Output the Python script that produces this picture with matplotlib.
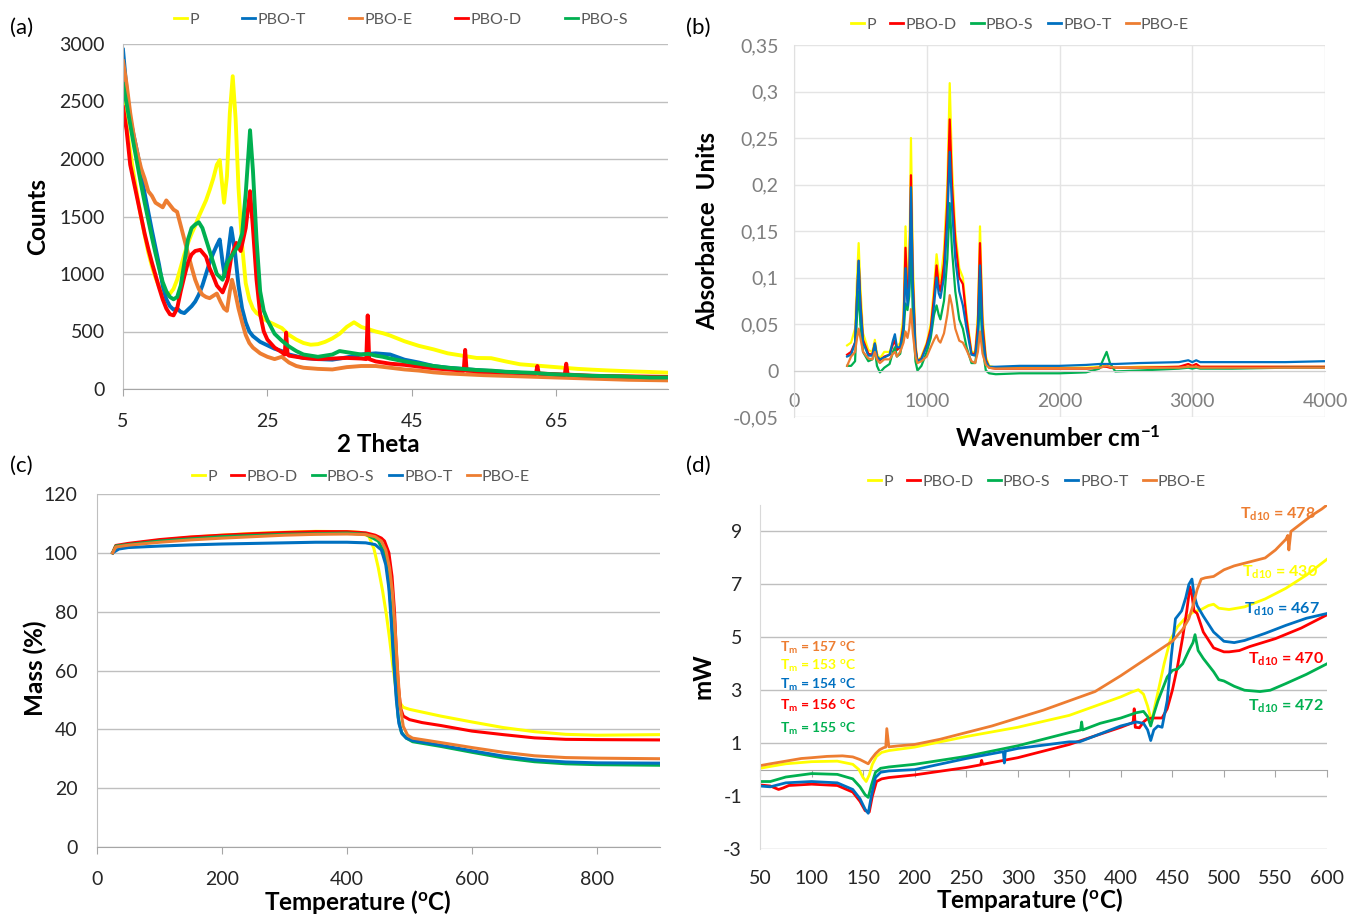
import matplotlib
matplotlib.use("Agg")
import matplotlib.pyplot as plt
from matplotlib.ticker import FuncFormatter

plt.rcParams["font.family"] = ["Lato", "DejaVu Sans"]
plt.rcParams["mathtext.fontset"] = "custom"
plt.rcParams["mathtext.rm"] = "Lato"
plt.rcParams["mathtext.it"] = "Lato:italic"
plt.rcParams["mathtext.bf"] = "Lato:bold"
plt.rcParams["axes.unicode_minus"] = False

# ---------------------------------------------------------------- colours
COL = {"P": "#FFFF00", "PBO-D": "#FF0000", "PBO-S": "#00B050",
       "PBO-T": "#0070C0", "PBO-E": "#ED7D31"}

# ---------------------------------------------------------------- (a) XRD
xrd_p_x = [5, 5.5, 6, 6.5, 7, 7.5, 8, 8.5, 9, 9.5, 10, 10.5, 11, 11.5, 12, 12.5, 13, 13.5, 14, 14.5,
           15, 15.5, 16, 16.5, 17, 17.5, 18, 18.4, 18.7, 19.0, 19.4, 19.8, 20.2, 20.6, 21.0, 21.5, 22, 22.5, 23, 23.5,
           24, 24.5, 25, 26, 27, 28, 29, 30, 31, 32, 33, 34, 35, 36, 37, 38, 39, 40, 41, 42,
           43, 44, 46, 48, 50, 52, 54, 56, 58, 60, 62, 64, 66, 68, 70, 72, 74, 76, 78, 80.5]
xrd_p_y = [2520, 2280, 2060, 1860, 1670, 1500, 1340, 1190, 1070, 970, 890, 840, 810, 830, 870, 950, 1060, 1170, 1270, 1350,
           1420, 1500, 1570, 1640, 1730, 1830, 1950, 1990, 1800, 1620, 1850, 2400, 2720, 2350, 1750, 1250, 920, 780, 700, 660,
           640, 610, 590, 560, 530, 470, 430, 400, 385, 390, 410, 440, 480, 540, 580, 540, 520, 500, 485, 465,
           440, 415, 375, 345, 310, 290, 270, 268, 240, 215, 205, 195, 185, 175, 168, 162, 157, 152, 148, 142]

xrd_t_x = [5, 5.5, 6, 6.5, 7, 7.5, 8, 8.5, 9, 9.5, 10, 10.5, 11, 11.5, 12, 12.5, 13, 13.5, 14, 14.5,
           15, 15.5, 16, 16.5, 17, 17.5, 18, 18.4, 18.8, 19.1, 19.5, 20.0, 20.5, 21, 21.5, 22, 22.5, 23, 24, 25,
           26, 27, 28, 30, 32, 34, 36, 38, 40, 42, 44, 46, 48, 50, 55, 60, 65, 70, 75, 80.5]
xrd_t_y = [2950, 2600, 2350, 2200, 2050, 1880, 1700, 1540, 1380, 1230, 1080, 900, 780, 720, 690, 700, 670, 660, 690, 720,
           760, 820, 900, 1000, 1100, 1180, 1250, 1300, 1100, 980, 1150, 1400, 1200, 900, 700, 580, 500, 460, 410, 380,
           350, 330, 300, 270, 260, 255, 275, 300, 310, 300, 255, 230, 200, 185, 160, 140, 125, 110, 100, 90]

xrd_e_x = [5, 5.5, 6, 6.5, 7, 7.5, 8, 8.5, 9, 9.5, 10, 10.5, 11, 11.5, 12, 12.5, 13, 13.5, 14, 14.5,
           15, 15.5, 16, 16.5, 17, 17.5, 18, 18.5, 19, 19.4, 19.8, 20.1, 20.5, 21, 21.5, 22, 22.5, 23, 24, 25,
           26, 27, 28, 29, 30, 32, 34, 36, 38, 40, 42, 44, 46, 48, 50, 55, 60, 65, 70, 75, 80.5]
xrd_e_y = [2850, 2650, 2400, 2200, 2050, 1920, 1830, 1720, 1680, 1620, 1600, 1580, 1640, 1600, 1560, 1540, 1420, 1300, 1180, 1060,
           950, 870, 820, 800, 790, 810, 830, 760, 700, 680, 850, 950, 850, 700, 580, 470, 400, 360, 310, 280,
           260, 280, 230, 200, 185, 175, 170, 190, 200, 200, 185, 170, 160, 145, 135, 120, 110, 100, 90, 80, 75]

xrd_d_x = [5, 5.5, 6, 6.5, 7, 7.5, 8, 8.5, 9, 9.5, 10, 10.5, 11, 11.5, 12, 12.5, 13, 13.5, 14, 14.5,
           15, 15.7, 16.5, 17, 17.5, 18, 18.8, 19.5, 20, 20.7, 21.3, 22, 22.6, 23, 23.5, 24, 24.5, 25, 26, 27,
           27.4, 27.6, 27.8, 28, 29, 30, 32, 34, 36, 38, 38.7, 38.9, 39.1, 40, 42, 44, 46, 48, 50, 52.2,
           52.4, 52.6, 55, 58, 60, 62.2, 62.4, 62.6, 66.2, 66.4, 66.6, 70, 75, 80.5]
xrd_d_y = [2450, 2250, 1950, 1800, 1650, 1500, 1350, 1220, 1100, 990, 880, 780, 700, 650, 640, 700, 850, 980, 1100, 1170,
           1200, 1210, 1150, 1050, 980, 900, 840, 950, 1150, 1270, 1200, 1400, 1720, 1400, 950, 650, 500, 430, 360, 320,
           300, 490, 300, 290, 280, 270, 260, 265, 270, 265, 260, 640, 260, 240, 220, 210, 195, 180, 170, 160,
           340, 160, 150, 145, 140, 135, 200, 135, 125, 220, 125, 115, 110, 105]

xrd_s_x = [5, 5.5, 6, 6.5, 7, 7.5, 8, 8.5, 9, 9.5, 10, 10.5, 11, 11.5, 12, 12.5, 13, 13.5, 14, 14.5,
           15, 15.5, 16, 16.5, 17, 17.5, 18, 18.8, 19.5, 20, 20.5, 21, 21.5, 22, 22.6, 23, 23.5, 24, 24.5, 25,
           26, 27, 28, 29, 30, 31, 32, 33, 34, 35, 36, 37, 38, 39, 40, 41, 42, 44, 46, 48,
           50, 52, 54, 56, 58, 60, 62, 64, 66, 68, 70, 72, 74, 76, 78, 80.5]
xrd_s_y = [2650, 2480, 2300, 2120, 1950, 1780, 1620, 1470, 1320, 1180, 1050, 930, 850, 800, 780, 800, 900, 1100, 1300, 1400,
           1430, 1450, 1400, 1300, 1200, 1100, 1000, 950, 1100, 1150, 1200, 1250, 1350, 1700, 2250, 1900, 1300, 850, 680, 600,
           480, 420, 370, 330, 300, 290, 280, 290, 300, 330, 320, 310, 300, 305, 290, 280, 265, 240, 220, 200,
           185, 175, 165, 160, 150, 145, 140, 130, 125, 120, 115, 112, 110, 105, 100, 100]

xrd_ticks = [5, 25, 45, 65]

# ---------------------------------------------------------------- (b) FTIR
wavenumber = [400, 430, 460, 475, 487, 500, 520, 560, 590, 609, 625, 647, 680, 720, 745, 760, 775, 800, 825, 840,
              855, 868, 881, 895, 915, 930, 960, 1000, 1030, 1055, 1074, 1090, 1103, 1130, 1155, 1173, 1190, 1215, 1245, 1272,
              1300, 1337, 1365, 1385, 1401, 1420, 1445, 1470, 1520, 1700, 2000, 2200, 2300, 2330, 2355, 2380, 2420, 2600, 2900, 2970,
              3000, 3030, 3060, 3300, 3700, 4000]
ftir_p = [0.027, 0.030, 0.045, 0.10, 0.137, 0.09, 0.04, 0.022, 0.02, 0.033, 0.018, 0.013, 0.02, 0.02, 0.03, 0.035, 0.025, 0.03, 0.06, 0.155,
          0.09, 0.11, 0.25, 0.12, 0.03, 0.01, 0.015, 0.03, 0.05, 0.09, 0.125, 0.105, 0.095, 0.13, 0.2, 0.309, 0.22, 0.15, 0.11, 0.10,
          0.06, 0.02, 0.02, 0.06, 0.155, 0.06, 0.015, 0.005, 0.003, 0.003, 0.003, 0.003, 0.004, 0.005, 0.005, 0.004, 0.003, 0.004, 0.004, 0.005,
          0.005, 0.005, 0.004, 0.004, 0.004, 0.004]
ftir_d = [0.017, 0.020, 0.03, 0.08, 0.118, 0.075, 0.033, 0.018, 0.017, 0.029, 0.015, 0.011, 0.015, 0.017, 0.028, 0.032, 0.022, 0.025, 0.05, 0.132,
          0.08, 0.095, 0.21, 0.1, 0.025, 0.01, 0.013, 0.028, 0.045, 0.08, 0.113, 0.092, 0.085, 0.115, 0.18, 0.27, 0.2, 0.14, 0.1, 0.093,
          0.055, 0.018, 0.018, 0.05, 0.137, 0.05, 0.012, 0.003, 0.002, 0.002, 0.002, 0.002, 0.003, 0.004, 0.004, 0.003, 0.003, 0.003, 0.004, 0.007,
          0.005, 0.007, 0.004, 0.004, 0.004, 0.004]
ftir_s = [0.005, 0.005, 0.01, 0.06, 0.085, 0.05, 0.02, 0.01, 0.012, 0.022, 0.005, -0.002, 0.003, 0.007, 0.02, 0.025, 0.015, 0.018, 0.04, 0.072,
          0.065, 0.08, 0.14, 0.06, 0.01, 0.0, 0.005, 0.02, 0.035, 0.06, 0.07, 0.06, 0.055, 0.075, 0.12, 0.18, 0.13, 0.085, 0.055, 0.045,
          0.025, 0.008, 0.008, 0.03, 0.082, 0.025, 0.0, -0.003, -0.004, -0.003, -0.003, -0.002, 0.002, 0.012, 0.02, 0.008, -0.001, 0.0, 0.002, 0.003,
          0.002, 0.003, 0.002, 0.002, 0.003, 0.003]
ftir_t = [0.015, 0.017, 0.03, 0.08, 0.118, 0.07, 0.03, 0.016, 0.016, 0.029, 0.015, 0.012, 0.014, 0.017, 0.032, 0.039, 0.025, 0.025, 0.045, 0.11,
          0.07, 0.09, 0.197, 0.09, 0.022, 0.01, 0.012, 0.026, 0.04, 0.07, 0.1, 0.083, 0.078, 0.1, 0.16, 0.235, 0.175, 0.12, 0.085, 0.07,
          0.045, 0.017, 0.016, 0.04, 0.113, 0.04, 0.01, 0.004, 0.004, 0.005, 0.005, 0.006, 0.007, 0.007, 0.007, 0.007, 0.007, 0.008, 0.009, 0.011,
          0.009, 0.011, 0.009, 0.009, 0.009, 0.01]
ftir_e = [0.005, 0.015, 0.02, 0.035, 0.045, 0.035, 0.02, 0.013, 0.012, 0.02, 0.012, 0.008, 0.012, 0.012, 0.018, 0.02, 0.015, 0.02, 0.03, 0.042,
          0.035, 0.045, 0.066, 0.04, 0.015, 0.008, 0.01, 0.015, 0.025, 0.033, 0.038, 0.032, 0.03, 0.04, 0.06, 0.081, 0.07, 0.045, 0.032, 0.03,
          0.022, 0.01, 0.008, 0.02, 0.042, 0.018, 0.006, 0.003, 0.002, 0.002, 0.002, 0.002, 0.003, 0.004, 0.005, 0.004, 0.003, 0.003, 0.003, 0.004,
          0.004, 0.004, 0.003, 0.003, 0.003, 0.003]

# ---------------------------------------------------------------- (c) TGA
tga_p_x = [25, 30, 50, 100, 150, 200, 250, 300, 350, 400, 420, 435, 443, 450, 457, 463, 468, 473, 478, 483,
           490, 500, 550, 600, 650, 700, 750, 800, 900]
tga_p_y = [100, 102, 103, 104.3, 105.3, 106, 106.6, 107, 107.3, 107.2, 107, 105.6, 101.5, 95, 87, 79, 71, 62, 54, 49.5,
           47.5, 46.8, 44.5, 42.5, 40.6, 39.2, 38.3, 38.0, 38.2]
tga_d_x = [25, 30, 50, 100, 150, 200, 250, 300, 350, 400, 430, 445, 455, 460, 467, 472, 476, 479, 482, 486,
           490, 500, 520, 550, 600, 650, 700, 750, 800, 900]
tga_d_y = [100, 102.5, 103.2, 104.5, 105.4, 106, 106.5, 106.9, 107.2, 107.2, 106.8, 106, 105, 104, 100, 92, 80, 66, 55, 47,
           44.5, 43.3, 42.3, 41.3, 39.4, 38.2, 37.1, 36.6, 36.5, 36.4]
tga_s_x = [25, 30, 100, 200, 300, 400, 430, 450, 460, 466, 470, 474, 478, 482, 487, 495, 505, 550, 600, 650,
           700, 750, 800, 900]
tga_s_y = [100, 102.3, 104, 105.5, 106.3, 106.7, 106.3, 104, 100, 92, 82, 68, 54, 44, 39, 37, 35.8, 34.2, 32.2, 30.3,
           29, 28.3, 28, 27.8]
tga_t_x = [25, 35, 50, 100, 150, 200, 250, 300, 350, 400, 430, 445, 455, 462, 467, 471, 475, 479, 483, 488,
           495, 505, 550, 600, 650, 700, 750, 800, 900]
tga_t_y = [100, 101.3, 101.8, 102.3, 102.7, 103, 103.2, 103.4, 103.6, 103.6, 103.4, 102.8, 101, 96, 88, 76, 62, 50, 42, 38.5,
           37, 36.2, 34.6, 32.7, 30.9, 29.6, 28.9, 28.6, 28.5]
tga_e_x = [25, 30, 50, 100, 150, 200, 250, 300, 350, 400, 430, 445, 455, 462, 468, 473, 477, 481, 485, 490,
           497, 505, 550, 600, 650, 700, 750, 800, 900]
tga_e_y = [100, 102, 102.6, 103.6, 104.4, 105, 105.5, 106, 106.3, 106.4, 106.2, 105.5, 104, 101, 95, 86, 74, 60, 48, 41,
           38, 37, 35.5, 33.8, 32.2, 31, 30.4, 30.2, 30]

# ---------------------------------------------------------------- (d) DSC
dsc_p_x = [50, 60, 75, 100, 125, 140, 146, 150, 153, 156, 159, 163, 168, 175, 200, 250, 300, 350, 375, 400,
           410, 417, 422, 426, 430, 433, 437, 442, 448, 455, 462, 470, 478, 485, 490, 495, 505, 520, 540, 560,
           580, 600]
dsc_p_y = [0.05, 0.12, 0.22, 0.3, 0.32, 0.2, 0.0, -0.3, -0.45, -0.2, 0.2, 0.5, 0.65, 0.72, 0.85, 1.25, 1.6, 2.05, 2.4, 2.75,
           2.92, 3.02, 2.85, 2.4, 1.8, 2.4, 3.1, 4.0, 4.9, 5.4, 5.7, 5.95, 6.05, 6.2, 6.25, 6.1, 6.05, 6.15, 6.45, 6.85,
           7.35, 7.95]
dsc_d_x = [50, 60, 68, 72, 78, 100, 125, 140, 147, 152, 156, 159, 163, 168, 175, 200, 250, 264, 265, 266,
           300, 350, 400, 410, 412, 413, 414, 418, 422, 425, 430, 440, 445, 450, 455, 460, 464, 467, 469, 471,
           474, 480, 490, 500, 505, 515, 525, 550, 575, 600]
dsc_d_y = [-0.58, -0.62, -0.75, -0.7, -0.6, -0.55, -0.6, -0.85, -1.2, -1.55, -1.6, -1.0, -0.45, -0.35, -0.3, -0.2, 0.08, 0.18, 0.35, 0.2,
           0.45, 0.95, 1.6, 1.75, 1.8, 2.3, 1.6, 1.58, 1.8, 1.9, 1.95, 1.95, 2.3, 3.0, 3.9, 5.0, 6.0, 6.9, 6.6, 6.0,
           5.9, 5.2, 4.6, 4.45, 4.45, 4.5, 4.65, 4.95, 5.35, 5.85]
dsc_s_x = [50, 60, 75, 100, 125, 140, 147, 152, 155, 158, 162, 167, 175, 200, 250, 300, 350, 361, 362, 363,
           380, 400, 415, 422, 426, 429, 432, 436, 440, 445, 450, 455, 460, 466, 470, 472, 475, 480, 490, 495,
           500, 510, 520, 535, 545, 560, 580, 600]
dsc_s_y = [-0.45, -0.45, -0.28, -0.15, -0.18, -0.35, -0.65, -0.95, -1.05, -0.6, -0.1, 0.05, 0.1, 0.2, 0.5, 0.9, 1.4, 1.5, 1.8, 1.5,
           1.75, 1.95, 2.15, 2.2, 2.0, 1.65, 2.1, 2.6, 3.0, 3.5, 3.75, 3.8, 4.0, 4.5, 4.8, 5.1, 4.5, 4.2, 3.7, 3.4,
           3.35, 3.15, 3.0, 2.95, 3.0, 3.25, 3.6, 4.0]
dsc_t_x = [50, 60, 75, 100, 125, 140, 147, 152, 155, 158, 162, 167, 175, 200, 250, 286, 287, 288, 300, 330,
           350, 360, 380, 400, 415, 422, 426, 429, 432, 436, 440, 445, 449, 453, 459, 463, 466, 469, 471, 474,
           480, 490, 500, 510, 520, 540, 560, 580, 600]
dsc_t_y = [-0.62, -0.65, -0.5, -0.45, -0.5, -0.75, -1.1, -1.5, -1.65, -1.0, -0.3, -0.1, -0.05, 0.0, 0.42, 0.68, 0.25, 0.7, 0.8, 0.95,
           1.05, 1.05, 1.35, 1.65, 1.8, 1.75, 1.5, 1.1, 1.5, 1.65, 1.6, 2.6, 4.3, 5.7, 6.0, 6.5, 7.0, 7.2, 6.6, 6.2,
           5.8, 5.2, 4.85, 4.8, 4.88, 5.15, 5.45, 5.72, 5.9]
dsc_e_x = [50, 60, 75, 90, 100, 115, 130, 140, 147, 152, 155, 158, 162, 166, 170, 172, 173, 175, 185, 200,
           225, 250, 275, 300, 325, 350, 375, 400, 425, 450, 460, 466, 470, 474, 478, 482, 490, 500, 510, 525,
           540, 550, 560, 562, 563, 565, 575, 585, 595, 600]
dsc_e_y = [0.15, 0.22, 0.32, 0.42, 0.45, 0.5, 0.52, 0.48, 0.38, 0.28, 0.22, 0.4, 0.6, 0.75, 0.83, 0.85, 1.55, 0.86, 0.9, 0.95,
           1.15, 1.4, 1.65, 1.95, 2.25, 2.6, 2.95, 3.55, 4.2, 4.85, 5.3, 5.7, 6.2, 6.8, 7.2, 7.25, 7.3, 7.55, 7.7, 7.85,
           8.0, 8.3, 8.7, 8.85, 8.3, 9.0, 9.3, 9.6, 9.85, 10.0]

tm_labels = ["PBO-E", "P", "PBO-T", "PBO-D", "PBO-S"]
tm_values = [157, 153, 154, 156, 155]
tm_ypos = [4.6, 3.9, 3.2, 2.4, 1.55]
td_labels = ["PBO-E", "P", "PBO-T", "PBO-D", "PBO-S"]
td_values = [478, 430, 467, 470, 472]
td_xpos = [515.5, 517.5, 519.5, 523, 523]
td_ypos = [9.66, 7.47, 6.04, 4.15, 2.4]

# ---------------------------------------------------------------- layout
W, H = 1347, 915
fig = plt.figure(figsize=(W / 100, H / 100), dpi=100)
GRID = "#BFBFBF"
TICK = "#262626"
LABEL_FS = 17.5


def axes_px(left, top, right, bottom):
    return fig.add_axes([left / W, 1 - bottom / H, (right - left) / W, (bottom - top) / H])


def legend_at(ax, handles, cx, cy, spacing):
    leg = ax.legend(handles=handles, loc="center", bbox_to_anchor=(cx / W, 1 - cy / H),
                    bbox_transform=fig.transFigure, ncol=len(handles), frameon=False,
                    fontsize=11.5, handlelength=0.8, handletextpad=0.15, columnspacing=spacing,
                    borderaxespad=0)
    for t in leg.get_texts():
        t.set_color("#595959")
    for h in leg.get_lines():
        h.set_linewidth(2)


def panel_tag(x, y, s):
    fig.text(x / W, 1 - y / H, s, fontsize=16, ha="left", va="center")


# (a) XRD patterns
ax = axes_px(123, 44, 668, 389)
lines = []
for name, xs, ys in [("P", xrd_p_x, xrd_p_y), ("PBO-T", xrd_t_x, xrd_t_y), ("PBO-E", xrd_e_x, xrd_e_y),
                     ("PBO-D", xrd_d_x, xrd_d_y), ("PBO-S", xrd_s_x, xrd_s_y)]:
    ln, = ax.plot(xs, ys, color=COL[name], lw=2.8, label=name, solid_joinstyle="round")
    lines.append(ln)
ax.set_xlim(5, 80.5)
ax.set_ylim(0, 3000)
ax.set_xticks(xrd_ticks)
ax.set_yticks(range(0, 3001, 500))
ax.yaxis.grid(True, color=GRID, lw=1)
ax.set_axisbelow(True)
for s in ("top", "right"):
    ax.spines[s].set_visible(False)
ax.spines["left"].set_color(GRID)
ax.spines["bottom"].set_color("#A6A6A6")
ax.tick_params(axis="y", length=0, pad=13, labelsize=14, labelcolor=TICK)
ax.tick_params(axis="x", length=5, color="#A6A6A6", pad=12, labelsize=14, labelcolor=TICK)
ax.set_ylabel("Counts", fontsize=LABEL_FS, fontweight="bold", va="center", ha="center")
ax.yaxis.set_label_coords(-0.156, 0.5)
ax.set_xlabel("2 Theta", fontsize=LABEL_FS, fontweight="bold", va="center", ha="center")
ax.xaxis.set_label_coords(0.468, -0.162)
legend_at(ax, lines, 401, 20, 2.7)
panel_tag(10, 28, "(a)")

# (b) FTIR spectra
ax = axes_px(794, 45, 1325, 417)
lines = []
for name, ys in [("P", ftir_p), ("PBO-D", ftir_d), ("PBO-S", ftir_s), ("PBO-T", ftir_t), ("PBO-E", ftir_e)]:
    ln, = ax.plot(wavenumber, ys, color=COL[name], lw=1.6, label=name)
    lines.append(ln)
ax.set_xlim(0, 4000)
ax.set_ylim(-0.05, 0.35)
ax.set_xticks(range(0, 4001, 1000))
ax.set_yticks([-0.05, 0, 0.05, 0.1, 0.15, 0.2, 0.25, 0.3, 0.35])


def comma_fmt(v, pos):
    v = round(v, 2)
    if v == 0:
        return "0"
    return f"{v:g}".replace(".", ",")


ax.yaxis.set_major_formatter(FuncFormatter(comma_fmt))
ax.grid(True, color="#E4E4E4", lw=1)
ax.set_axisbelow(True)
for s in ("top", "right"):
    ax.spines[s].set_visible(False)
ax.spines["bottom"].set_position(("data", 0))
ax.spines["bottom"].set_color("#D0D0D0")
ax.spines["left"].set_color("#E0E0E0")
ax.tick_params(axis="both", length=0, labelsize=14, labelcolor="#7F7F7F")
ax.tick_params(axis="y", pad=11)
ax.tick_params(axis="x", pad=16)
ax.set_ylabel("Absorbance  Units", fontsize=LABEL_FS, fontweight="bold", va="center", ha="center")
ax.yaxis.set_label_coords(-0.162, 0.5)
ax.set_xlabel(r"Wavenumber cm$^{\mathbf{-1}}$", fontsize=LABEL_FS, fontweight="bold", va="center", ha="center")
ax.xaxis.set_label_coords(0.497, -0.056)
legend_at(ax, lines, 1020, 25, 0.9)
panel_tag(686, 28, "(b)")

# (c) TGA curves
ax = axes_px(97, 494, 659.5, 847)
lines = []
for name, xs, ys in [("P", tga_p_x, tga_p_y), ("PBO-D", tga_d_x, tga_d_y), ("PBO-S", tga_s_x, tga_s_y),
                     ("PBO-T", tga_t_x, tga_t_y), ("PBO-E", tga_e_x, tga_e_y)]:
    ln, = ax.plot(xs, ys, color=COL[name], lw=2.2, label=name)
    lines.append(ln)
ax.set_xlim(0, 900)
ax.set_ylim(0, 120)
ax.set_xticks(range(0, 801, 200))
ax.set_yticks(range(0, 121, 20))
ax.yaxis.grid(True, color=GRID, lw=1)
ax.set_axisbelow(True)
for s in ("top", "right"):
    ax.spines[s].set_visible(False)
ax.spines["left"].set_color(GRID)
ax.spines["bottom"].set_color("#A6A6A6")
ax.tick_params(axis="y", length=0, pad=14, labelsize=14, labelcolor=TICK)
ax.tick_params(axis="x", length=5, color="#A6A6A6", pad=12, labelsize=14, labelcolor=TICK)
ax.set_ylabel("Mass (%)", fontsize=LABEL_FS, fontweight="bold", va="center", ha="center")
ax.yaxis.set_label_coords(-0.110, 0.507)
ax.set_xlabel(r"Temperature ($^{\mathbf{o}}$C)", fontsize=LABEL_FS, fontweight="bold", va="center", ha="center")
ax.xaxis.set_label_coords(0.464, -0.156)
legend_at(ax, lines, 361, 477, 0.9)
panel_tag(10, 466, "(c)")

# (d) DSC curves
ax = axes_px(760, 505, 1327, 849)
lines = []
for name, xs, ys in [("P", dsc_p_x, dsc_p_y), ("PBO-D", dsc_d_x, dsc_d_y), ("PBO-S", dsc_s_x, dsc_s_y),
                     ("PBO-T", dsc_t_x, dsc_t_y), ("PBO-E", dsc_e_x, dsc_e_y)]:
    ln, = ax.plot(xs, ys, color=COL[name], lw=2.0, label=name)
    lines.append(ln)
ylo, yhi = -3, 10
ax.set_xlim(50, 600)
ax.set_ylim(ylo, yhi)
dsc_xticks = list(range(50, 601, 50))
ax.set_xticks(dsc_xticks)
ax.set_yticks(range(-3, 10, 2))
ax.yaxis.grid(True, color=GRID, lw=1)
ax.set_axisbelow(True)
for s in ("top", "right", "bottom"):
    ax.spines[s].set_visible(False)
ax.spines["left"].set_color("#D9D9D9")
ax.tick_params(axis="y", length=0, pad=13, labelsize=14, labelcolor=TICK)
ax.tick_params(axis="x", length=0, pad=15, labelsize=14, labelcolor=TICK)
# horizontal axis line crossing at 0 mW, with its tick marks
zero_axis = ax.secondary_xaxis((0 - ylo) / (yhi - ylo))
zero_axis.set_xticks(dsc_xticks)
zero_axis.tick_params(axis="x", length=5, color="#A6A6A6", labelbottom=False, labeltop=False)
zero_axis.spines["bottom"].set_color("#A6A6A6")
zero_axis.spines["top"].set_visible(False)
ax.set_ylabel("mW", fontsize=LABEL_FS, fontweight="bold", va="center", ha="center")
ax.yaxis.set_label_coords(-0.1005, 0.503)
ax.set_xlabel(r"Temparature ($^{\mathbf{o}}$C)", fontsize=LABEL_FS, fontweight="bold", va="center", ha="center")
ax.xaxis.set_label_coords(0.476, -0.148)
for name, val, y in zip(tm_labels, tm_values, tm_ypos):
    ax.text(69, y, rf"T$_{{\mathbf{{m}}}}$ = {val} $^{{\mathbf{{o}}}}$C", color=COL[name],
            fontsize=10, fontweight="bold", ha="left", va="center")
for name, val, x, y in zip(td_labels, td_values, td_xpos, td_ypos):
    ax.text(x, y, rf"T$_{{\mathbf{{d10}}}}$ = {val}", color=COL[name],
            fontsize=11.5, fontweight="bold", ha="left", va="center")
legend_at(ax, lines, 1037, 482, 0.9)
panel_tag(686, 466, "(d)")

fig.savefig("out.png", dpi=100)
